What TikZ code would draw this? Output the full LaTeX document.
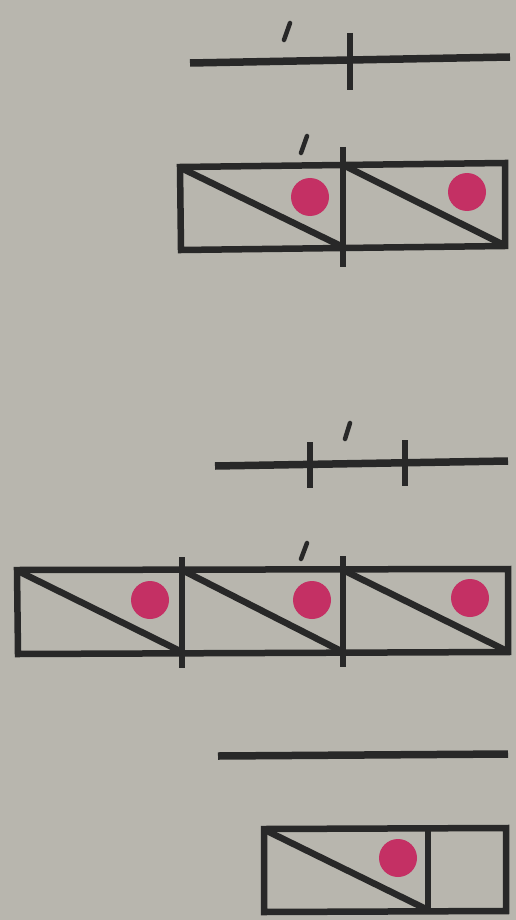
\documentclass[tikz,border=0pt]{standalone}
\usetikzlibrary{backgrounds}
\definecolor{paper}{RGB}{184,182,174}
\definecolor{ink}{RGB}{40,40,40}
\definecolor{dotc}{RGB}{196,48,100}
\begin{document}
\begin{tikzpicture}[x=1pt,y=-1pt,
  bar/.style={draw=ink,line width=7.5pt},
  frame/.style={draw=ink,line width=6.5pt,line join=miter},
  tickmark/.style={draw=ink,line width=6pt},
  slashmark/.style={draw=ink,line width=4.5pt,line cap=round},
  dotmark/.style={fill=dotc,draw=none}]
\fill[paper] (0,0) rectangle (516,920);
\useasboundingbox (0,0) rectangle (516,920);
% row 1
\draw[bar] (190,63) -- (510,57);
\draw[tickmark] (350,33) -- (350,90);
\draw[slashmark] (290,23) -- (284,40);
% row 2
\draw[frame] (180,167) -- (505,163) -- (505,246) -- (181,250) -- cycle;
\draw[tickmark] (343,147) -- (343,267);
\draw[frame] (181,168) -- (343,247);
\draw[frame] (343,165) -- (504,245);
\fill[dotmark] (310,197) circle (19);
\fill[dotmark] (467,192) circle (19);
\draw[slashmark] (307,136) -- (301,153);
% row 3
\draw[bar] (215,466) -- (508,461);
\draw[tickmark] (310,442) -- (310,488);
\draw[tickmark] (405,440) -- (405,486);
\draw[slashmark] (350,423) -- (345,439);
% row 4
\draw[frame] (17,570) -- (508,569) -- (508,652) -- (18,654) -- cycle;
\draw[tickmark] (182,557) -- (182,668);
\draw[tickmark] (343,556) -- (343,667);
\draw[frame] (18,571) -- (182,652);
\draw[frame] (182,570) -- (343,652);
\draw[frame] (343,570) -- (507,651);
\fill[dotmark] (150,600) circle (19);
\fill[dotmark] (312,600) circle (19);
\fill[dotmark] (470,598) circle (19);
\draw[slashmark] (307,543) -- (301,559);
% row 5
\draw[bar] (218,756) -- (508,754);
% row 6
\draw[frame] (264,829) -- (506,828) -- (506,911) -- (264,912) -- cycle;
\draw[frame] (428,828) -- (428,911);
\draw[frame] (265,830) -- (428,910);
\fill[dotmark] (398,858) circle (19);
\end{tikzpicture}
\end{document}
